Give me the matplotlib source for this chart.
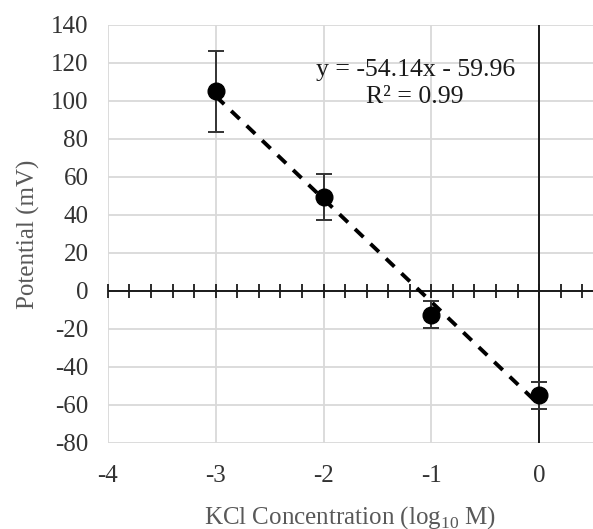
import matplotlib
matplotlib.use("Agg")
import matplotlib.pyplot as plt
import numpy as np

# data
log_conc = [-3, -2, -1, 0]
potential = [105, 49.5, -12.5, -55]
pot_err = [21.5, 12, 7, 7]
fit_slope = -54.14
fit_icept = -59.96
fit_r2 = 0.99

x_ticks = [-4, -3, -2, -1, 0]
y_ticks = [-80, -60, -40, -20, 0, 20, 40, 60, 80, 100, 120, 140]

plt.rcParams["font.family"] = ["Liberation Serif", "DejaVu Serif"]
plt.rcParams["mathtext.fontset"] = "custom"
plt.rcParams["mathtext.rm"] = "Liberation Serif"
plt.rcParams["axes.unicode_minus"] = False

fig = plt.figure(figsize=(5.93, 5.29), dpi=100)
ax = fig.add_axes([0.182, 0.163, 0.818, 0.790])

ax.set_xlim(-4, 0.5)
ax.set_ylim(-80, 140)
ax.set_xticks(x_ticks)
ax.set_yticks(y_ticks)
ax.tick_params(length=0, labelsize=18, labelcolor="#333333")
ax.tick_params(axis="y", pad=14)
ax.tick_params(axis="x", pad=16)
ax.grid(True, color="#d9d9d9", lw=1.3)
ax.set_axisbelow(True)
for s in ax.spines.values():
    s.set_visible(False)

# axes crossing at zero, excel style
ax.axhline(0, color="#1a1a1a", lw=1.4, zorder=2)
ax.axvline(0, color="#1a1a1a", lw=1.4, zorder=2)
minor = np.arange(-4, 0.5, 0.2)
ax.plot(minor, np.zeros_like(minor), ls="none", marker="|", ms=9.5,
        mew=1.3, color="#1a1a1a", zorder=2, clip_on=False)

# trendline over the data range
xf = np.array([min(log_conc), max(log_conc)])
ax.plot(xf, fit_slope * xf + fit_icept, color="black", lw=2.8,
        dashes=(3, 2.5), zorder=3)

ax.errorbar(log_conc, potential, yerr=pot_err, fmt="o", ms=12,
            color="black", ecolor="#333333", elinewidth=1.4, capsize=6,
            capthick=1.4, zorder=4)

ax.text(-1.15, 109, f"y = {fit_slope}x - {abs(fit_icept)}\nR² = {fit_r2}",
        ha="center", va="center", fontsize=18.5, color="#1a1a1a",
        linespacing=1.3)

ax.set_ylabel("Potential (mV)", fontsize=18, color="#595959", labelpad=8)
ax.set_xlabel("KCl Concentration (log$_{10}$ M)", fontsize=18,
              color="#595959", labelpad=12)

fig.savefig("out.png", dpi=100)
